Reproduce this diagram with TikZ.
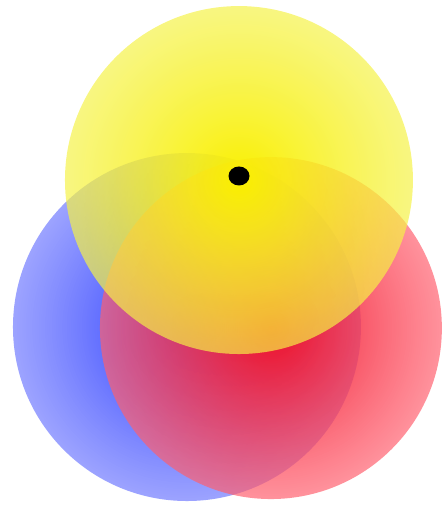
\documentclass[tikz,border=0pt]{standalone}
\usepackage{tikz}
\usetikzlibrary{fadings}

\tikzfading[name=glow, inner color=transparent!0, outer color=transparent!32]

\begin{document}
\begin{tikzpicture}[x=1pt, y=1pt, disc/.style={path fading=glow, draw=none}]
\useasboundingbox (0,0) rectangle (445,506);
\coordinate (bluec) at (187,179);
\coordinate (redc) at (271,178);
\coordinate (yelc) at (239,326);

\shade[disc, inner color={rgb,255:red,30;green,50;blue,255}, outer color={rgb,255:red,110;green,120;blue,255}] (bluec) circle (174);
\shade[disc, inner color={rgb,255:red,240;green,15;blue,40}, outer color={rgb,255:red,255;green,95;blue,110}] (redc) circle (171);
\shade[disc, inner color={rgb,255:red,250;green,240;blue,0}, outer color={rgb,255:red,245;green,242;blue,70}] (yelc) circle (174);

\fill[black] (239,330) ellipse (10.5 and 9.5);
\end{tikzpicture}
\end{document}
